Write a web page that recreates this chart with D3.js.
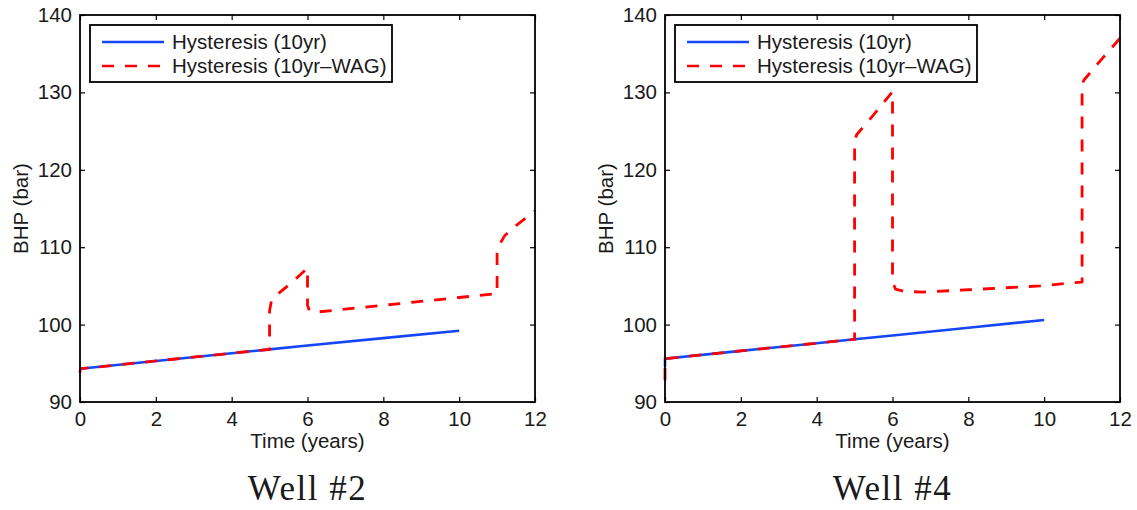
<!DOCTYPE html>
<html>
<head>
<meta charset="utf-8">
<script src="https://cdn.jsdelivr.net/npm/d3@7"></script>
<style>
  body { margin: 0; background: #fff; }
  svg { display: block; }
</style>
</head>
<body>
<svg id="chart" width="1137" height="510"></svg>
<script>
// ---------- data ----------
const wellTitles = ["Well #2", "Well #4"];
const seriesNames = ["Hysteresis (10yr)", "Hysteresis (10yr\u2013WAG)"];
const xTicks = [0, 2, 4, 6, 8, 10, 12];
const yTicks = [90, 100, 110, 120, 130, 140];

// Well #2
const well2BlueT = [0, 2, 4, 5, 6, 8, 10];
const well2BlueY = [94.3, 95.3, 96.3, 96.8, 97.3, 98.25, 99.2];
const well2RedT = [0, 0.01, 2, 4, 5, 5, 5.05, 5.3, 5.6, 5.8, 6, 6, 6.05, 6.2, 8, 10, 11, 11, 11.05, 11.2, 11.5, 12];
const well2RedY = [93.8, 94.3, 95.3, 96.3, 96.8, 101.8, 103.1, 104.3, 105.5, 106.4, 107.3, 102.5, 101.8, 101.6, 102.5, 103.5, 104.0, 109.2, 110.2, 111.5, 112.8, 114.7];

// Well #4
const well4BlueT = [0, 0, 2, 4, 5, 6, 8, 10];
const well4BlueY = [94.6, 95.6, 96.6, 97.6, 98.1, 98.6, 99.6, 100.6];
const well4RedT = [0, 0, 2, 4, 5, 5, 5.05, 5.5, 6, 6, 6.08, 6.3, 6.8, 8, 9.9, 11, 11, 11.05, 11.5, 12];
const well4RedY = [92.8, 95.6, 96.6, 97.6, 98.1, 123.5, 124.5, 127.1, 130.1, 105.5, 104.6, 104.3, 104.2, 104.5, 105.0, 105.5, 131.0, 131.6, 134.2, 137.0];

const panels = [
  { title: wellTitles[0], blue: [well2BlueT, well2BlueY], red: [well2RedT, well2RedY], left: 80 },
  { title: wellTitles[1], blue: [well4BlueT, well4BlueY], red: [well4RedT, well4RedY], left: 665 }
];

// ---------- drawing ----------
const svg = d3.select("#chart");
const W = 455, H = 387, topY = 15;
const blueColor = "#1446f7", redColor = "#ff0000";
const font = "'Liberation Sans', Arial, Helvetica, sans-serif";

panels.forEach((p, i) => {
  const g = svg.append("g").attr("transform", `translate(${p.left},${topY})`);
  const x = d3.scaleLinear().domain([0, 12]).range([0, W]);
  const y = d3.scaleLinear().domain([90, 140]).range([H, 0]);

  const clipId = "clip" + i;
  g.append("clipPath").attr("id", clipId).append("rect")
    .attr("x", -2).attr("y", -2).attr("width", W + 4).attr("height", H + 4);

  const line = d3.line().x(d => x(d[0])).y(d => y(d[1]));
  const toPts = (arr) => arr[0].map((t, k) => [t, arr[1][k]]);

  const lines = g.append("g").attr("clip-path", `url(#${clipId})`);
  lines.append("path").datum(toPts(p.blue)).attr("d", line)
    .attr("fill", "none").attr("stroke", blueColor).attr("stroke-width", 2.6);
  lines.append("path").datum(toPts(p.red)).attr("d", line)
    .attr("fill", "none").attr("stroke", redColor).attr("stroke-width", 2.8)
    .attr("stroke-dasharray", "12,11");

  // axes (ticks inward)
  const ax = (axis) => axis.tickSizeInner(-5).tickSizeOuter(0).tickPadding(10);
  const bottom = g.append("g").attr("transform", `translate(0,${H})`)
    .call(ax(d3.axisBottom(x).tickValues(xTicks).tickFormat(d3.format("d"))));
  const leftAx = g.append("g")
    .call(ax(d3.axisLeft(y).tickValues(yTicks).tickFormat(d3.format("d"))));
  const topAx = g.append("g")
    .call(d3.axisTop(x).tickValues(xTicks).tickSizeInner(-5).tickSizeOuter(0).tickFormat(""));
  const rightAx = g.append("g").attr("transform", `translate(${W},0)`)
    .call(d3.axisRight(y).tickValues(yTicks).tickSizeInner(-5).tickSizeOuter(0).tickFormat(""));
  [bottom, leftAx, topAx, rightAx].forEach(a => {
    a.select(".domain").remove();
    a.selectAll(".tick line").attr("stroke", "#000").attr("stroke-width", 1.2);
    a.selectAll("text").attr("font-family", font).attr("font-size", 20.5).attr("fill", "#1a1a1a");
  });
  bottom.selectAll("text").attr("dy", "0.71em").attr("y", 9);
  leftAx.selectAll("text").attr("x", -8);

  g.append("rect").attr("x", 0).attr("y", 0).attr("width", W).attr("height", H)
    .attr("fill", "none").attr("stroke", "#000").attr("stroke-width", 1.8);

  // axis labels
  g.append("text").attr("x", W / 2).attr("y", H + 46)
    .attr("text-anchor", "middle").attr("font-family", font).attr("font-size", 20.5)
    .attr("fill", "#1a1a1a").text("Time (years)");
  g.append("text").attr("transform", `translate(${-52},${H / 2}) rotate(-90)`)
    .attr("text-anchor", "middle").attr("font-family", font).attr("font-size", 20.5)
    .attr("fill", "#1a1a1a").text("BHP (bar)");

  // title
  g.append("text").attr("x", W / 2).attr("y", 500 - topY)
    .attr("text-anchor", "middle").attr("font-family", "'Liberation Serif', 'Times New Roman', serif")
    .attr("font-size", 35).attr("letter-spacing", 1.5).attr("fill", "#1a1a1a").text(p.title);

  // legend
  const lg = g.append("g").attr("transform", "translate(10,10)");
  lg.append("rect").attr("x", 0).attr("y", 0).attr("width", 302).attr("height", 57)
    .attr("fill", "#fff").attr("stroke", "#000").attr("stroke-width", 1.8);
  const colors = [blueColor, redColor];
  seriesNames.forEach((name, k) => {
    const ly = 17 + k * 24;
    lg.append("line").attr("x1", 12).attr("x2", 74).attr("y1", ly).attr("y2", ly)
      .attr("stroke", colors[k]).attr("stroke-width", 2.6)
      .attr("stroke-dasharray", k === 1 ? "12,11" : null);
    lg.append("text").attr("x", 82).attr("y", ly + 7)
      .attr("font-family", font).attr("font-size", 20.5).attr("fill", "#1a1a1a").text(name);
  });
});
</script>
</body>
</html>
